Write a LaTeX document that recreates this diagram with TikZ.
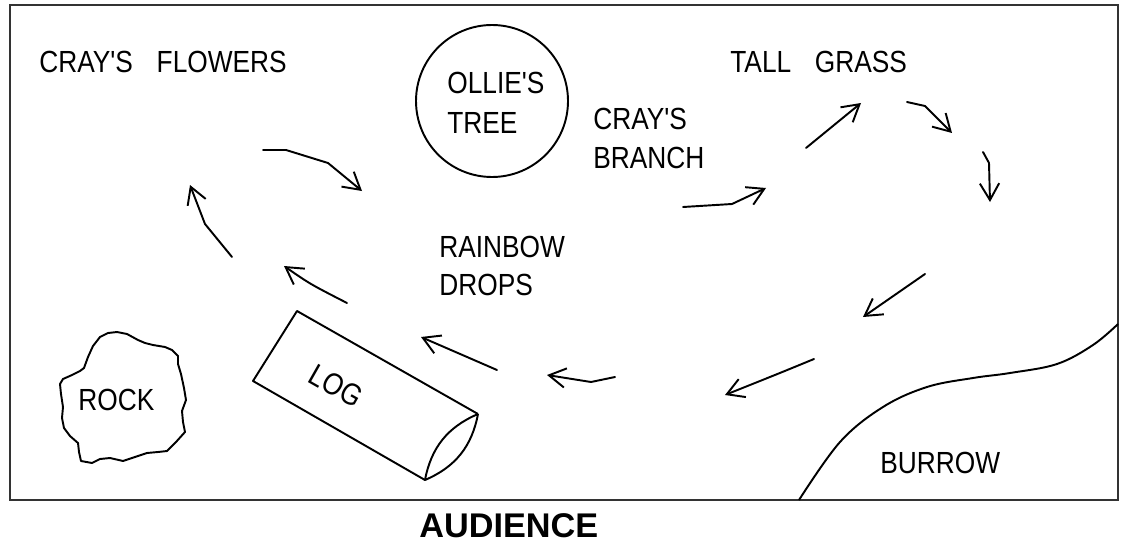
\documentclass[tikz,border=0pt]{standalone}
\usepackage{fontspec}
\setmainfont{Liberation Sans}
\newfontfamily\labfont[FakeStretch=0.86]{Liberation Sans}
\usetikzlibrary{arrows.meta}
\begin{document}
\begin{tikzpicture}[x=0.02cm,y=-0.02cm,
  lab/.style={font=\labfont\fontsize{17.4}{20}\selectfont, inner sep=0pt, anchor=base west},
  flow/.style={line width=1.1pt, line join=round, line cap=round,
    -{Straight Barb[length=9.5pt,width=11pt]}},
  outline/.style={line width=1.1pt, line join=round}]
\useasboundingbox (0,0) rectangle (1122,544);
\fill[white] (0,0) rectangle (1122,544);
% stage frame
\draw[line width=1.2pt, black!80] (10,5) rectangle (1118,500);
% labels
\node[lab] (flowers) at (39,72) {CRAY'S\hspace{13.5pt}FLOWERS};
\node[lab] (grass) at (730,72) {TALL\hspace{13.5pt}GRASS};
\node[draw, circle, line width=1.1pt, minimum size=152*0.02cm, inner sep=0pt] (tree) at (492,101) {};
\node[lab] (ollie) at (447,93) {OLLIE'S};
\node[lab] (treelab) at (447,133) {TREE};
\node[lab] (branch1) at (593,130) {CRAY'S};
\node[lab] (branch2) at (593,168) {BRANCH};
\node[lab] (rain1) at (439,257) {RAINBOW};
\node[lab] (rain2) at (439,295) {DROPS};
\node[lab] (rocklab) at (78,410) {ROCK};
\node[lab] (burrow) at (880,473) {BURROW};
\node[font=\bfseries\fontsize{19.5}{22}\selectfont, inner sep=0pt, anchor=base west] (audience) at (419,537) {AUDIENCE};
% rock
\draw[outline] (117,332) -- (108,333) -- (100,337) -- (93,346) -- (88,357) -- (84,368) -- (80,371)
  -- (72,375) -- (63,379) -- (60,384) -- (61,394) -- (63,407) -- (62,418) -- (64,428)
  -- (70,436) -- (78,443) -- (79,452) -- (81,461) -- (92,463) -- (100,459) -- (110,458)
  -- (123,461) -- (135,457) -- (147,453) -- (158,452) -- (167,451) -- (176,442) -- (185,432)
  -- (183,422) -- (182,411) -- (186,400) -- (184,388) -- (181,374) -- (178,364) -- (178,356)
  -- (172,350) -- (165,347) -- (153,345) -- (145,343) -- (138,340) -- (127,334) -- cycle;
% log
\coordinate (la) at (297,311);
\coordinate (lb) at (478,414);
\coordinate (lc) at (425,480);
\coordinate (ld) at (253,381);
\draw[outline] (lb) -- (la) -- (ld) -- (lc);
\draw[outline] (lb) to[bend left=28] (lc) to[bend left=28] (lb);
\node[font=\labfont\fontsize{17.4}{20}\selectfont, inner sep=0pt, rotate=-29.6] (loglab) at (336,386) {LOG};
% burrow edge
\draw[line width=1.1pt] plot[smooth, tension=0.6] coordinates {(1118,324) (1093,345) (1057,364) (1010,373) (973,378) (927,387) (883,407) (840,442) (799,500)};
% flow arrows
\draw[flow] (263,150) -- (286,150) -- (328,163) -- (362,191);
\draw[flow] (683,207) -- (732,204) -- (766,188);
\draw[flow] (806,148) -- (861,103);
\draw[flow] (907,102) -- (925,106) -- (952,133);
\draw[flow] (983,152) -- (989,163) -- (990,202);
\draw[flow] (925,274) -- (863,317);
\draw[flow] (814,359) .. controls (780,373) .. (725,395);
\draw[flow] (615,377) -- (591,382) -- (547,375);
\draw[flow] (497,370) -- (421,337);
\draw[flow] (347,303) .. controls (310,284) .. (284,266);
\draw[flow] (232,257) -- (205,224) -- (190,185);
\end{tikzpicture}
\end{document}
